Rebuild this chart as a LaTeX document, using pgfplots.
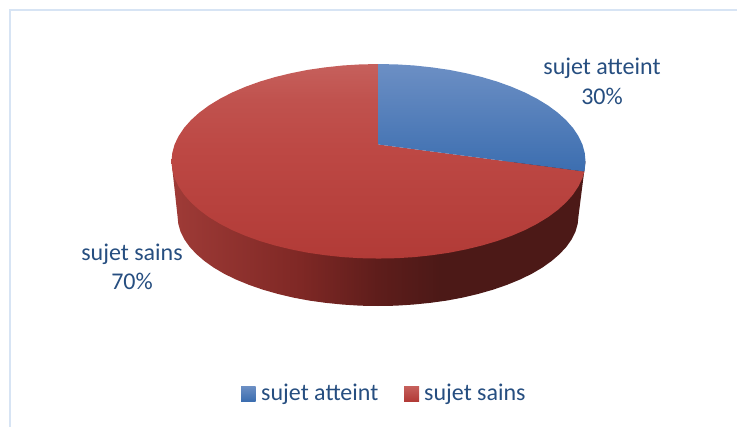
\documentclass[border=0pt]{standalone}
\usepackage{pgfplots}
\pgfplotsset{compat=1.18}
\usepackage{fontspec}
\setmainfont{Carlito}
\definecolor{txt}{HTML}{264E80}
\definecolor{framec}{HTML}{D7E4F4}
\definecolor{wa}{HTML}{9F3B37}
\definecolor{wb}{HTML}{7F2825}
\definecolor{wc}{HTML}{5E1D1B}
\definecolor{wd}{HTML}{4C1917}
\definecolor{ra}{RGB}{198,96,92}
\definecolor{rm}{RGB}{192,82,78}
\definecolor{rb}{RGB}{189,72,68}
\definecolor{rc}{RGB}{178,59,55}
\definecolor{ba}{RGB}{108,143,196}
\definecolor{bb}{RGB}{73,125,190}
\definecolor{bc}{RGB}{60,110,176}
\pgfdeclarehorizontalshading{wallshade}{100bp}{
 color(0bp)=(wa);color(25bp)=(wa);color(40.5bp)=(wb);color(50bp)=(wc);color(57.5bp)=(wd);color(75bp)=(wd);color(100bp)=(wd)}
\pgfdeclareverticalshading{redtop}{100bp}{
 color(0bp)=(rc);color(25bp)=(rc);color(52.9bp)=(rb);color(65.7bp)=(rm);color(75bp)=(ra);color(100bp)=(ra)}
\tikzset{lab/.style={text=txt, font=\fontsize{24bp}{28bp}\selectfont}}
\begin{document}
\begin{tikzpicture}
\useasboundingbox (0,0) rectangle (737bp,427bp);
\begin{axis}[
  at={(0,0)}, anchor=south west,
  scale only axis, width=737bp, height=427bp,
  xmin=0, xmax=737, ymin=0, ymax=427, y dir=reverse,
  axis lines=none, clip=true, no markers,
]
% frame
\addplot[framec, line width=1.5bp] coordinates {(10,427) (10,10) (737,10)};
% wall
\addplot[draw=none, shade, shading=wallshade] coordinates {
(171.5,161.3)(177.5,216)(178.3,223.8)(180.5,231.6)(184.3,239.3)(189.6,246.8)(196.3,254.0)(204.4,261)(213.7,267.6)(224.4,273.9)(236.2,279.6)(249.1,284.9)(263.0,289.7)(277.7,293.9)(293.3,297.6)(309.4,300.6)(326.1,302.9)(343.2,304.6)(360.5,305.7)(378,306)(395.5,305.7)(412.8,304.6)(429.9,302.9)(446.6,300.6)(462.7,297.6)(478.3,293.9)(493.0,289.7)(506.9,284.9)(519.8,279.6)(531.6,273.9)(542.3,267.6)(551.6,261)(559.7,254)(566.4,246.8)(571.7,239.3)(575.5,231.6)(577.7,223.8)(578.5,216)(585.5,161.3)(171.5,161.3)};
% red slice: 70 %
\addplot[draw=none, shade, shading=redtop] coordinates {
(378.5,144.5)(584.4,171.5)(582.4,178.2)(578.4,186.5)(573.0,194.6)(566.1,202.4)(557.8,209.9)(548.1,217.1)(537.1,223.8)(524.9,230.1)(511.6,235.8)(497.2,241.0)(482.0,245.5)(466.0,249.4)(449.3,252.7)(432.1,255.2)(414.4,257.1)(396.6,258.2)(378.5,258.55)(360.4,258.2)(342.6,257.1)(324.9,255.2)(307.7,252.7)(291.0,249.4)(275.0,245.5)(259.8,241.0)(245.4,235.8)(232.1,230.1)(219.9,223.8)(208.9,217.1)(199.2,209.9)(190.9,202.4)(184.0,194.6)(178.6,186.5)(174.6,178.2)(172.3,169.8)(171.5,161.3)(172.3,152.8)(174.6,144.4)(178.6,136.1)(184.0,128.0)(190.9,120.2)(199.2,112.7)(208.9,105.5)(219.9,98.8)(232.1,92.5)(245.4,86.8)(259.8,81.6)(275.0,77.1)(291.0,73.2)(307.7,69.9)(324.9,67.4)(342.6,65.5)(360.4,64.4)(378.5,64.05)(378.5,144.5)};
% blue slice: 30 %
\addplot[draw=none, top color=ba, middle color=bb, bottom color=bc] coordinates {
(378.5,144.5)(378.5,64.05)(396.6,64.4)(414.4,65.5)(432.1,67.4)(449.3,69.9)(466.0,73.2)(482.0,77.1)(497.2,81.6)(511.6,86.8)(524.9,92.5)(537.1,98.8)(548.1,105.5)(557.8,112.7)(566.1,120.2)(573.0,128.0)(578.4,136.1)(582.4,144.4)(584.7,152.8)(585.5,161.3)(584.7,169.8)(584.4,171.5)(378.5,144.5)};
% legend keys
\addplot[draw=none, top color=ba, bottom color=bc] coordinates {(241,386)(255.5,386)(255.5,401)(241,401)(241,386)};
\addplot[draw=none, top color=ra, bottom color=rc] coordinates {(404,386)(419,386)(419,401)(404,401)(404,386)};
% labels
\node[lab, anchor=base] at (axis cs:602,74.7) {sujet atteint};
\node[lab, anchor=base] at (axis cs:602,104.7) {30\%};
\node[lab, anchor=base] at (axis cs:132,260.7) {sujet sains};
\node[lab, anchor=base] at (axis cs:132,289.7) {70\%};
\node[lab, anchor=base west, inner sep=0pt] at (axis cs:261,400.7) {sujet atteint};
\node[lab, anchor=base west, inner sep=0pt] at (axis cs:424,400.7) {sujet sains};
\end{axis}
\end{tikzpicture}
\end{document}
